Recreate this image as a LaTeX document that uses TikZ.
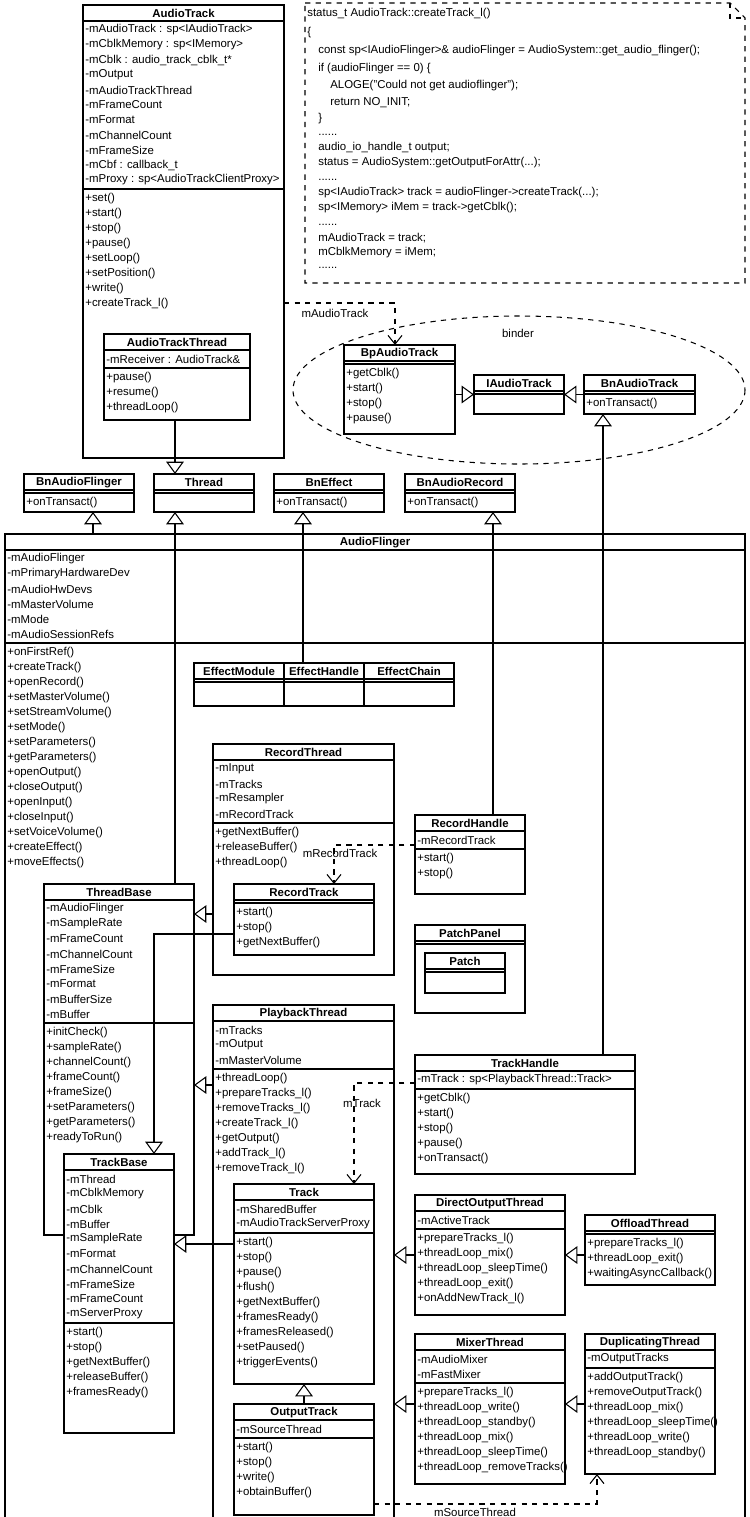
\documentclass[tikz,border=0pt]{standalone}
\usepackage{fontspec}
\setmainfont{Liberation Sans}
\usetikzlibrary{arrows.meta}
\usetikzlibrary{positioning}
\tikzset{
	classbox/.style={draw=black, fill=white, line width=0.9pt, anchor=north west, inner sep=0pt, outer sep=0pt},
	umlline/.style={draw=black, line width=0.9pt},
	umltitle/.style={font=\fontsize{6.5}{7}\selectfont\bfseries, inner sep=0pt},
	umltext/.style={font=\fontsize{6.5}{7}\selectfont, anchor=west, inner sep=0pt},
	inherit/.style={draw=black, line width=0.6pt, -{Triangle[open,length=7pt,width=10pt]}},
	assoc/.style={draw=black, line width=0.6pt, dashed, -{Straight Barb[length=5pt,width=8pt]}},
	note/.style={draw=black, line width=0.6pt, dashed},
}
% name, x, top, width, bottom, title, number of fields, fields, methods
\newcommand\umlclass[9]{%
	\node[classbox, minimum width=#4*0.02cm, minimum height=(#5-#3)*0.02cm] (#1) at (#2,#3) {};
	\node[umltitle] at (#2+#4/2,#3+8.5) {#6};
	\draw[umlline] (#2,#3+16) -- ++(#4,0);
	\pgfmathsetmacro\sepy{#3+16+15*#7+3}
	\draw[umlline] (#2,\sepy) -- ++(#4,0);
	\ifnum#7>0
		\foreach \f [count=\i from 0] in {#8} \node[umltext] at (#2+2,#3+25+15*\i) {\f};
	\fi
	\foreach \m [count=\i from 0] in {#9} \node[umltext] at (#2+2,\sepy+10+15*\i) {\m};
}

\begin{document}
\begin{tikzpicture}[x=0.02cm, y=-0.02cm]
	\useasboundingbox (0,0) rectangle (750,1517);
	% AudioTrack side
	\umlclass{AudioTrack}{83}{5}{201}{458}{AudioTrack}{11}{-mAudioTrack : sp<IAudioTrack>, -mCblkMemory : sp<IMemory>, -mCblk : audio\_track\_cblk\_t*, -mOutput, -mAudioTrackThread, -mFrameCount, -mFormat, -mChannelCount, -mFrameSize, -mCbf : callback\_t, -mProxy : sp<AudioTrackClientProxy>}{+set(), +start(), +stop(), +pause(), +setLoop(), +setPosition(), +write(), +createTrack\_l()}
	\umlclass{AudioTrackThread}{104}{334}{146}{420}{AudioTrackThread}{1}{-mReceiver : AudioTrack\&}{+pause(), +resume(), +threadLoop()}
	% code note
	\draw[note] (305,3) -- (730,3) -- (745,18) -- (745,283) -- (305,283) -- cycle;
	\draw[note] (730,3) -- (730,18) -- (745,18);
	\node[umltext] at (307,14) {status\_t AudioTrack::createTrack\_l()};
	\node[umltext] at (307,33) {\{};
	\node[umltext] at (318,51) {const sp<IAudioFlinger>\& audioFlinger = AudioSystem::get\_audio\_flinger();};
	\node[umltext] at (318,69) {if (audioFlinger == 0) \{};
	\node[umltext] at (330,86) {ALOGE("Could not get audioflinger");};
	\node[umltext] at (330,103) {return NO\_INIT;};
	\node[umltext] at (318,119) {\}};
	\node[umltext] at (318,135) {......};
	\node[umltext] at (318,148) {audio\_io\_handle\_t output;};
	\node[umltext] at (318,163) {status = AudioSystem::getOutputForAttr(...);};
	\node[umltext] at (318,180) {......};
	\node[umltext] at (318,193) {sp<IAudioTrack> track = audioFlinger->createTrack(...);};
	\node[umltext] at (318,208) {sp<IMemory> iMem = track->getCblk();};
	\node[umltext] at (318,225) {......};
	\node[umltext] at (318,238) {mAudioTrack = track;};
	\node[umltext] at (318,253) {mCblkMemory = iMem;};
	\node[umltext] at (318,268) {......};
	% binder
	\draw[note] (519,390) ellipse [x radius=226, y radius=74];
	\node[umltext, anchor=center] at (518,333) {binder};
	\umlclass{BpAudioTrack}{344}{345}{111}{434}{BpAudioTrack}{0}{}{+getCblk(), +start(), +stop(), +pause()}
	\umlclass{IAudioTrack}{474}{375}{90}{414}{IAudioTrack}{0}{}{}
	\umlclass{BnAudioTrack}{584}{375}{111}{414}{BnAudioTrack}{0}{}{+onTransact()}
	% base classes
	\umlclass{BnAudioFlinger}{24}{474}{110}{512}{BnAudioFlinger}{0}{}{+onTransact()}
	\umlclass{Thread}{154}{474}{100}{512}{Thread}{0}{}{}
	\umlclass{BnEffect}{274}{474}{110}{512}{BnEffect}{0}{}{+onTransact()}
	\umlclass{BnAudioRecord}{405}{474}{110}{512}{BnAudioRecord}{0}{}{+onTransact()}
	% AudioFlinger
	\umlclass{AudioFlinger}{5}{534}{740}{1560}{AudioFlinger}{6}{-mAudioFlinger, -mPrimaryHardwareDev, -mAudioHwDevs, -mMasterVolume, -mMode, -mAudioSessionRefs}{+onFirstRef(), +createTrack(), +openRecord(), +setMasterVolume(), +setStreamVolume(), +setMode(), +setParameters(), +getParameters(), +openOutput(), +closeOutput(), +openInput(), +closeInput(), +setVoiceVolume(), +createEffect(), +moveEffects()}
	\umlclass{EffectModule}{194}{663}{90}{706}{EffectModule}{0}{}{}
	\umlclass{EffectHandle}{284}{663}{80}{706}{EffectHandle}{0}{}{}
	\umlclass{EffectChain}{364}{663}{90}{706}{EffectChain}{0}{}{}
	\umlclass{RecordThread}{213}{744}{181}{975}{RecordThread}{4}{-mInput, -mTracks, -mResampler, -mRecordTrack}{+getNextBuffer(), +releaseBuffer(), +threadLoop()}
	\umlclass{RecordTrack}{234}{884}{140}{955}{RecordTrack}{0}{}{+start(), +stop(), +getNextBuffer()}
	\umlclass{RecordHandle}{415}{815}{110}{894}{RecordHandle}{1}{-mRecordTrack}{+start(), +stop()}
	\umlclass{PatchPanel}{415}{925}{110}{1013}{PatchPanel}{0}{}{}
	\umlclass{Patch}{425}{953}{80}{993}{Patch}{0}{}{}
	\umlclass{ThreadBase}{44}{884}{150}{1235}{ThreadBase}{8}{-mAudioFlinger, -mSampleRate, -mFrameCount, -mChannelCount, -mFrameSize, -mFormat, -mBufferSize, -mBuffer}{+initCheck(), +sampleRate(), +channelCount(), +frameCount(), +frameSize(), +setParameters(), +getParameters(), +readyToRun()}
	\umlclass{TrackBase}{64}{1154}{110}{1433}{TrackBase}{10}{-mThread, -mCblkMemory, -mCblk, -mBuffer, -mSampleRate, -mFormat, -mChannelCount, -mFrameSize, -mFrameCount, -mServerProxy}{+start(), +stop(), +getNextBuffer(), +releaseBuffer(), +framesReady()}
	\umlclass{PlaybackThread}{213}{1005}{181}{1560}{PlaybackThread}{3}{-mTracks, -mOutput, -mMasterVolume}{+threadLoop(), +prepareTracks\_l(), +removeTracks\_l(), +createTrack\_l(), +getOutput(), +addTrack\_l(), +removeTrack\_l()}
	\umlclass{Track}{234}{1184}{140}{1384}{Track}{2}{-mSharedBuffer, -mAudioTrackServerProxy}{+start(), +stop(), +pause(), +flush(), +getNextBuffer(), +framesReady(), +framesReleased(), +setPaused(), +triggerEvents()}
	\umlclass{OutputTrack}{234}{1404}{140}{1515}{OutputTrack}{1}{-mSourceThread}{+start(), +stop(), +write(), +obtainBuffer()}
	\umlclass{TrackHandle}{415}{1055}{220}{1174}{TrackHandle}{1}{-mTrack : sp<PlaybackThread::Track>}{+getCblk(), +start(), +stop(), +pause(), +onTransact()}
	\umlclass{DirectOutputThread}{415}{1195}{150}{1315}{DirectOutputThread}{1}{-mActiveTrack}{+prepareTracks\_l(), +threadLoop\_mix(), +threadLoop\_sleepTime(), +threadLoop\_exit(), +onAddNewTrack\_l()}
	\umlclass{OffloadThread}{585}{1215}{130}{1285}{OffloadThread}{0}{}{+prepareTracks\_l(), +threadLoop\_exit(), +waitingAsyncCallback()}
	\umlclass{MixerThread}{415}{1334}{150}{1484}{MixerThread}{2}{-mAudioMixer, -mFastMixer}{+prepareTracks\_l(), +threadLoop\_write(), +threadLoop\_standby(), +threadLoop\_mix(), +threadLoop\_sleepTime(), +threadLoop\_removeTracks()}
	\umlclass{DuplicatingThread}{585}{1334}{130}{1474}{DuplicatingThread}{1}{-mOutputTracks}{+addOutputTrack(), +removeOutputTrack(), +threadLoop\_mix(), +threadLoop\_sleepTime(), +threadLoop\_write(), +threadLoop\_standby()}
	% inheritance
	\draw[inherit] (BpAudioTrack.east |- IAudioTrack.west) -- (IAudioTrack.west);
	\draw[inherit] (BnAudioTrack.west) -- (IAudioTrack.east);
	\draw[inherit] (603,0 |- TrackHandle.north) -- (603,0 |- BnAudioTrack.south);
	\draw[inherit] (175,0 |- AudioTrackThread.south) -- (175,0 |- Thread.north);
	\draw[inherit] (93,0 |- AudioFlinger.north) -- (93,0 |- BnAudioFlinger.south);
	\draw[inherit] (175,0 |- ThreadBase.north) -- (175,0 |- Thread.south);
	\draw[inherit] (303,0 |- EffectHandle.north) -- (303,0 |- BnEffect.south);
	\draw[inherit] (493,0 |- RecordHandle.north) -- (493,0 |- BnAudioRecord.south);
	\draw[inherit] (RecordThread.west |- 0,914) -- (ThreadBase.east |- 0,914);
	\draw[inherit] (PlaybackThread.west |- 0,1085) -- (ThreadBase.east |- 0,1085);
	\draw[inherit] (RecordTrack.west |- 0,934) -| (154,0 |- TrackBase.north);
	\draw[inherit] (Track.west |- 0,1244) -- (TrackBase.east |- 0,1244);
	\draw[inherit] (OutputTrack.north) -- (Track.south);
	\draw[inherit] (DirectOutputThread.west |- 0,1255) -- (PlaybackThread.east |- 0,1255);
	\draw[inherit] (OffloadThread.west |- 0,1255) -- (DirectOutputThread.east |- 0,1255);
	\draw[inherit] (MixerThread.west |- 0,1404) -- (PlaybackThread.east |- 0,1404);
	\draw[inherit] (DuplicatingThread.west |- 0,1404) -- (MixerThread.east |- 0,1404);
	% associations
	\draw[assoc] (AudioTrack.east |- 0,303) -| (395,0 |- BpAudioTrack.north);
	\node[umltext, anchor=center] at (335,313) {mAudioTrack};
	\draw[assoc] (RecordHandle.west |- 0,845) -| (334,0 |- RecordTrack.north);
	\node[umltext, anchor=center] at (340,853) {mRecordTrack};
	\draw[assoc] (TrackHandle.west |- 0,1083) -| (354,0 |- Track.north);
	\node[umltext, anchor=center] at (362,1103) {mTrack};
	\draw[assoc] (OutputTrack.east |- 0,1504) -| (597,0 |- DuplicatingThread.south);
	\node[umltext, anchor=center] at (475,1512) {mSourceThread};
\end{tikzpicture}
\end{document}
